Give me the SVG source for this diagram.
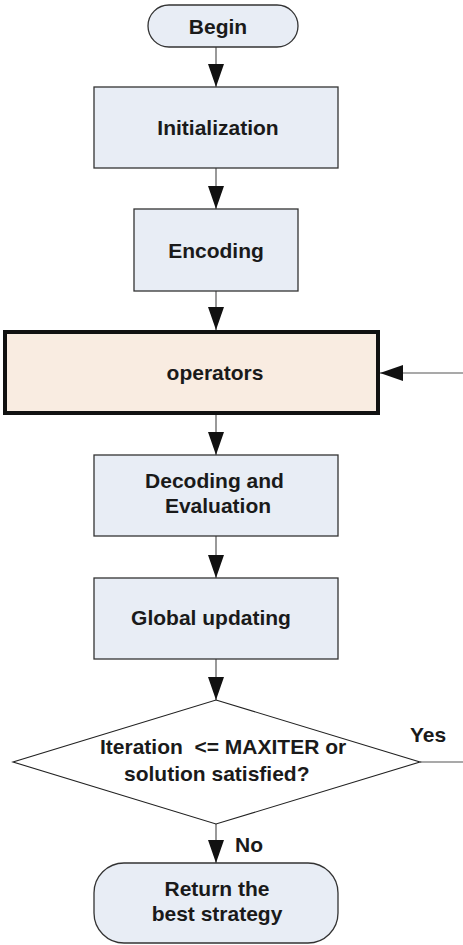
<svg xmlns="http://www.w3.org/2000/svg" width="463" height="945" viewBox="0 0 463 945">
  <defs>
    <style>
      .box { fill: #e8edf5; stroke: #333; stroke-width: 1.3; }
      .op { fill: #f9ece1; stroke: #111; stroke-width: 4; }
      .dec { fill: #fff; stroke: #222; stroke-width: 1.1; }
      .lbl { font-family: "Liberation Sans", Arial, sans-serif; font-weight: bold; font-size: 21px; fill: #1a1a1a; text-anchor: middle; }
      .tag { font-family: "Liberation Sans", Arial, sans-serif; font-weight: bold; font-size: 21px; fill: #1a1a1a; white-space: pre; }
      .wire { fill: none; stroke: #555; stroke-width: 1.2; }
    </style>
    <marker id="head" viewBox="0 0 23 16" refX="23" refY="8" markerWidth="23" markerHeight="16" markerUnits="userSpaceOnUse" orient="auto">
      <path d="M0,0 L23,8 L0,16 Z" fill="#111"/>
    </marker>
  </defs>

  <rect width="463" height="945" fill="#fff"/>

  <!-- connectors -->
  <g id="connectors">
    <line class="wire" x1="216" y1="47" x2="216" y2="87" marker-end="url(#head)"/>
    <line class="wire" x1="216" y1="168" x2="216" y2="209" marker-end="url(#head)"/>
    <line class="wire" x1="216" y1="291" x2="216" y2="330" marker-end="url(#head)"/>
    <line class="wire" x1="216" y1="415" x2="216" y2="455" marker-end="url(#head)"/>
    <line class="wire" x1="216" y1="536" x2="216" y2="578" marker-end="url(#head)"/>
    <line class="wire" x1="216" y1="659" x2="216" y2="700" marker-end="url(#head)"/>
    <line class="wire" x1="216" y1="824" x2="216" y2="863" marker-end="url(#head)"/>
    <line class="wire" x1="420" y1="762" x2="463" y2="762"/>
    <line class="wire" x1="463" y1="373" x2="380" y2="373" marker-end="url(#head)"/>
    <text class="tag" x="410" y="742">Yes</text>
    <text class="tag" x="235" y="852">No</text>
  </g>

  <g id="begin">
    <rect class="box" x="148" y="5" width="150" height="42" rx="21" ry="21"/>
    <text class="lbl" x="218" y="33.5">Begin</text>
  </g>

  <g id="initialization">
    <rect class="box" x="94" y="87" width="244" height="81"/>
    <text class="lbl" x="218" y="135">Initialization</text>
  </g>

  <g id="encoding">
    <rect class="box" x="134" y="209" width="164" height="82"/>
    <text class="lbl" x="216" y="257.5">Encoding</text>
  </g>

  <g id="operators">
    <rect class="op" x="5" y="332" width="373" height="81"/>
    <text class="lbl" x="215" y="380">operators</text>
  </g>

  <g id="decoding">
    <rect class="box" x="94" y="455" width="244" height="81"/>
    <text class="lbl" x="214.5" y="487.5">Decoding and</text>
    <text class="lbl" x="218" y="512.5">Evaluation</text>
  </g>

  <g id="global-updating">
    <rect class="box" x="94" y="578" width="244" height="81"/>
    <text class="lbl" x="211" y="625">Global updating</text>
  </g>

  <g id="check">
    <polygon class="dec" points="216,700 420,762 216,824 13,762"/>
    <text class="tag" x="100" y="753.5">Iteration  &lt;= MAXITER or</text>
    <text class="tag" x="124" y="780.5">solution satisfied?</text>
  </g>

  <g id="return">
    <rect class="box" x="94" y="863" width="244" height="80" rx="30" ry="30"/>
    <text class="lbl" x="217" y="895.5">Return the</text>
    <text class="lbl" x="217" y="920.5">best strategy</text>
  </g>
</svg>
